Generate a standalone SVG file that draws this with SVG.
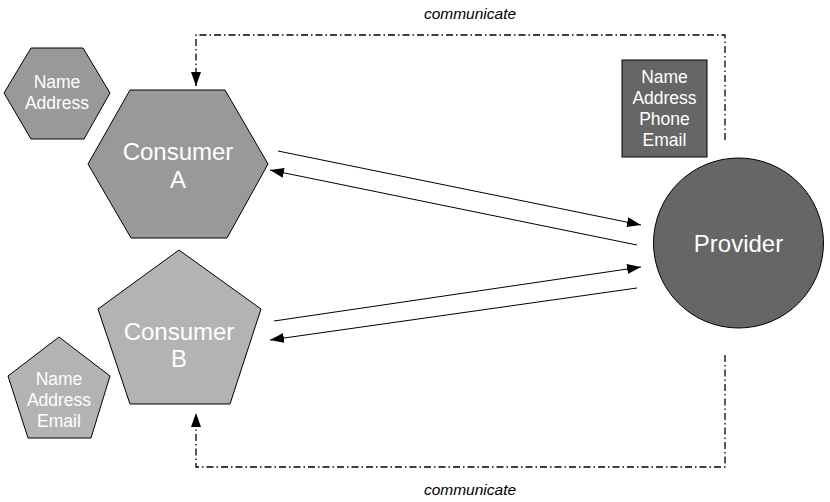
<svg xmlns="http://www.w3.org/2000/svg" width="830" height="502" viewBox="0 0 830 502">
<style>
.shape{stroke:#000;stroke-width:1}
.lbl{font-family:"Liberation Sans",Arial,sans-serif;fill:#fff;text-anchor:middle}
.big{font-size:24px}
.small{font-size:17.5px}
.conn{fill:none;stroke:#000;stroke-width:1}
.dd{stroke-dasharray:7,3,1.5,3;stroke-width:1.3}
.cap{font-family:"Liberation Sans",Arial,sans-serif;font-style:italic;font-size:15.5px;fill:#000;text-anchor:middle}
</style>
<defs>
<marker id="ah" viewBox="0 0 14 10" refX="14" refY="5" markerWidth="14" markerHeight="10" markerUnits="userSpaceOnUse" orient="auto">
<path d="M0,0 L14,5 L0,10 Z" fill="#000"/>
</marker>
</defs>
<rect width="830" height="502" fill="#fff"/>
<g id="connectors">
<polyline class="conn dd" points="725,140 725,35 196,35 196,86" marker-end="url(#ah)"/>
<polyline class="conn dd" points="725,355 725,467 196,467 196,413" marker-end="url(#ah)"/>
<line class="conn" x1="278" y1="151" x2="641" y2="225" marker-end="url(#ah)"/>
<line class="conn" x1="637" y1="245" x2="270" y2="170" marker-end="url(#ah)"/>
<line class="conn" x1="274" y1="321" x2="641" y2="267" marker-end="url(#ah)"/>
<line class="conn" x1="637" y1="288" x2="270" y2="340" marker-end="url(#ah)"/>
<text class="cap" x="470" y="19">communicate</text>
<text class="cap" x="470" y="495">communicate</text>
</g>
<g id="attrs-a">
<polygon class="shape" fill="#999" points="4,93 31,48 83,48 110,93 84,139 31,139"/>
<text class="lbl small" x="57" y="88">Name</text>
<text class="lbl small" x="57" y="109">Address</text>
</g>
<g id="consumer-a">
<polygon class="shape" fill="#999" points="88,164 130,90 225,90 268,164 227,238 131,238"/>
<text class="lbl big" x="178" y="160">Consumer</text>
<text class="lbl big" x="178" y="188">A</text>
</g>
<g id="consumer-b">
<polygon class="shape" fill="#b3b3b3" points="179,250 261,309 230,404 130,404 98,309"/>
<text class="lbl big" x="179" y="340">Consumer</text>
<text class="lbl big" x="179" y="367">B</text>
</g>
<g id="attrs-b">
<polygon class="shape" fill="#b3b3b3" points="59,337 110,376 91,438 28,438 8,376"/>
<text class="lbl small" x="59" y="385">Name</text>
<text class="lbl small" x="59" y="406">Address</text>
<text class="lbl small" x="59" y="427">Email</text>
</g>
<g id="attrs-provider">
<rect class="shape" fill="#666" x="622" y="60" width="85" height="97"/>
<text class="lbl small" x="664.5" y="83">Name</text>
<text class="lbl small" x="664.5" y="104">Address</text>
<text class="lbl small" x="664.5" y="125">Phone</text>
<text class="lbl small" x="664.5" y="146">Email</text>
</g>
<g id="provider">
<circle class="shape" fill="#666" cx="738.5" cy="243" r="85"/>
<text class="lbl big" x="738.5" y="252">Provider</text>
</g>
</svg>
